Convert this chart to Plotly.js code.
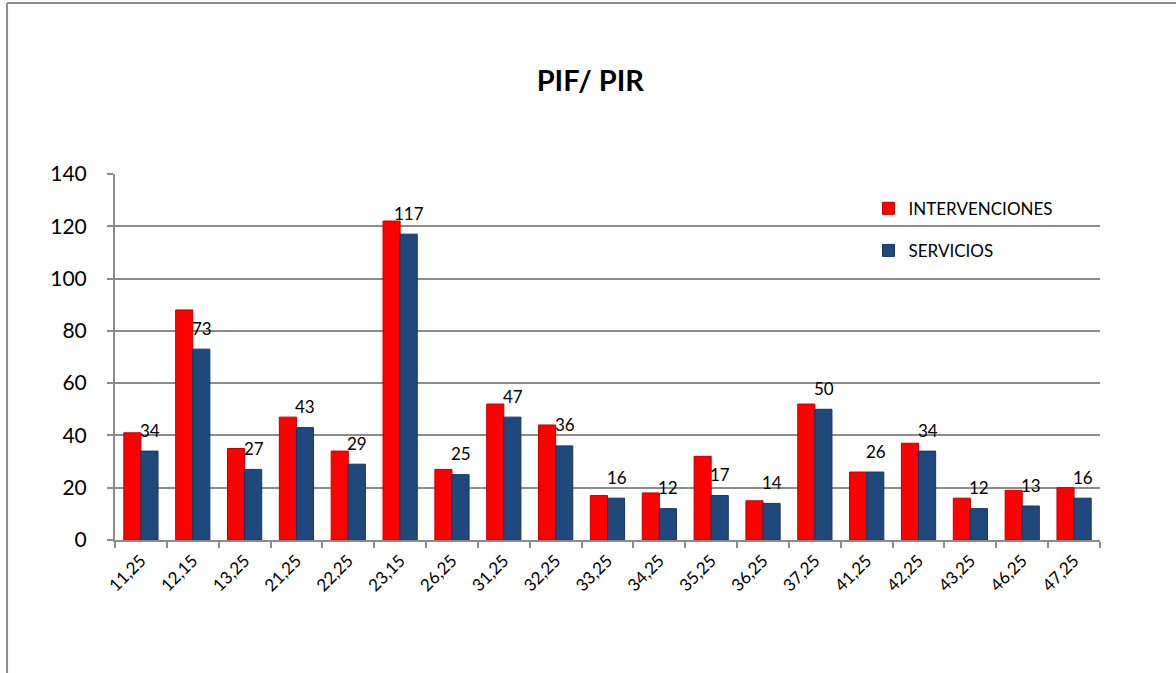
<!DOCTYPE html>
<html>
<head>
<meta charset="utf-8">
<script src="https://cdn.plot.ly/plotly-3.0.1.min.js"></script>
<style>
html,body{margin:0;padding:0;background:#fff;}
#chart{width:1176px;height:673px;}
</style>
</head>
<body>
<div id="chart"></div>
<script>
const categories = ["11,25","12,15","13,25","21,25","22,25","23,15","26,25","31,25","32,25","33,25","34,25","35,25","36,25","37,25","41,25","42,25","43,25","46,25","47,25"];
const intervenciones = [41,88,35,47,34,122,27,52,44,17,18,32,15,52,26,37,16,19,20];
const servicios = [34,73,27,43,29,117,25,47,36,16,12,17,14,50,26,34,12,13,16];
const yTicks = [0,20,40,60,80,100,120,140];

const font = "Lato, 'Open Sans', 'Liberation Sans', sans-serif";

const traces = [
  {
    type: "bar", name: "INTERVENCIONES", x: categories, y: intervenciones,
    marker: {color: "#FF0000", line: {color: "#C00000", width: 1}},
    legend: "legend", hoverinfo: "x+y"
  },
  {
    type: "bar", name: "SERVICIOS", x: categories, y: servicios,
    marker: {color: "#1F497D", line: {color: "#17365D", width: 1}},
    legend: "legend2", hoverinfo: "x+y"
  }
];

const annotations = categories.map((c, i) => ({
  x: c, y: servicios[i], xref: "x", yref: "y",
  text: String(servicios[i]), showarrow: false,
  xshift: 9, yshift: 21,
  font: {family: font, size: 17, color: "#000"}
}));

const layout = {
  width: 1176, height: 673,
  margin: {l: 115, r: 76, t: 174, b: 133, pad: 0},
  paper_bgcolor: "#fff", plot_bgcolor: "#fff",
  title: {
    text: "<b>PIF/ PIR</b>",
    font: {family: font, size: 29, color: "#000"},
    x: 0.502, xanchor: "center", y: 0.88, yanchor: "middle"
  },
  barmode: "group", bargap: 0.34, bargroupgap: 0,
  xaxis: {
    type: "category", tickangle: -45, tickson: "boundaries",
    ticks: "outside", ticklen: 6, tickcolor: "#8c8c8c", tickwidth: 2,
    showline: true, linecolor: "#8c8c8c", linewidth: 2,
    showgrid: false, zeroline: false,
    ticklabelstandoff: 2,
    tickfont: {family: font, size: 17, color: "#000"}
  },
  yaxis: {
    range: [0, 140], tickvals: yTicks, ticktext: yTicks.map(String),
    ticks: "outside", ticklen: 6, tickcolor: "#8c8c8c", tickwidth: 2,
    ticklabelstandoff: 16,
    showline: true, linecolor: "#8c8c8c", linewidth: 2,
    showgrid: true, gridcolor: "#8c8c8c", gridwidth: 2,
    zeroline: false,
    tickfont: {family: font, size: 21, color: "#000"}
  },
  legend: {
    x: 0.765, y: 0.905, xanchor: "left", yanchor: "middle",
    bgcolor: "rgba(0,0,0,0)", borderwidth: 0,
    font: {family: font, size: 17, color: "#000"},
    itemwidth: 30
  },
  legend2: {
    x: 0.765, y: 0.79, xanchor: "left", yanchor: "middle",
    bgcolor: "rgba(0,0,0,0)", borderwidth: 0,
    font: {family: font, size: 17, color: "#000"},
    itemwidth: 30
  },
  annotations: annotations,
  shapes: [
    {type: "line", xref: "paper", yref: "paper", x0: -0.1096, x1: 1.1, y0: 1.467, y1: 1.467,
     line: {color: "#8c8c8c", width: 2}},
    {type: "line", xref: "paper", yref: "paper", x0: -0.1096, x1: -0.1096, y0: 1.467, y1: -0.4,
     line: {color: "#8c8c8c", width: 2}}
  ],
  showlegend: true
};

Plotly.newPlot("chart", traces, layout, {displayModeBar: false, staticPlot: true});
</script>
</body>
</html>
